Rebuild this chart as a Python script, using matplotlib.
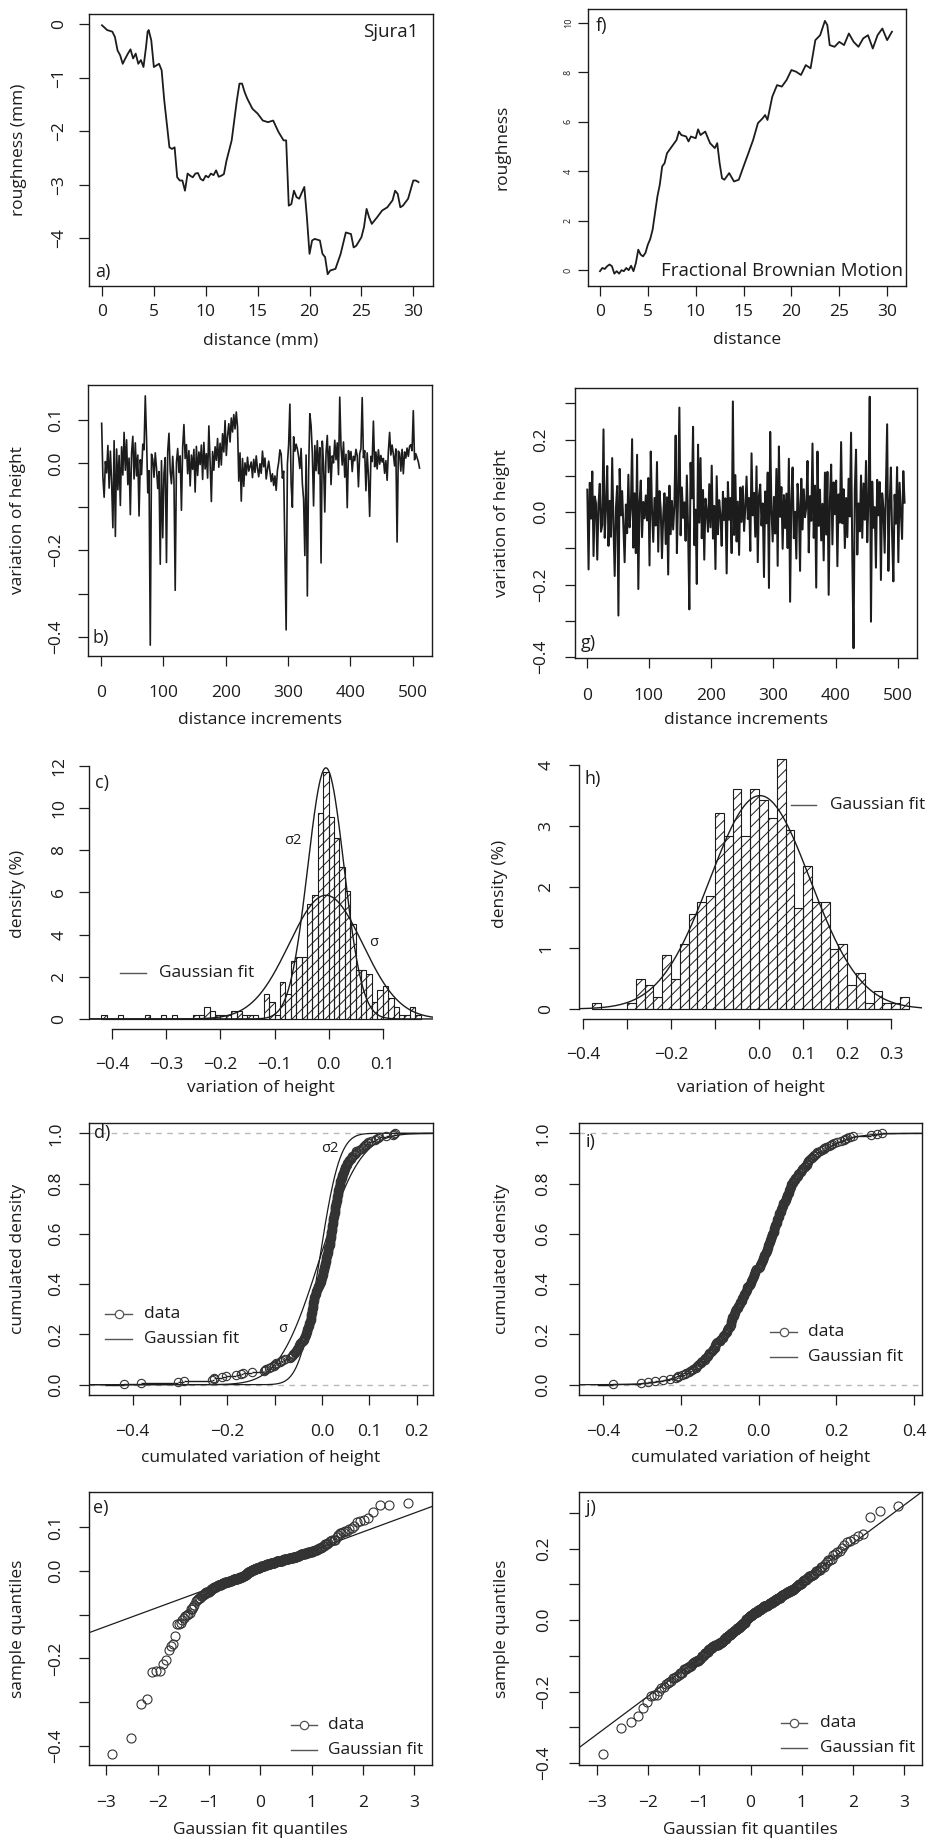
import numpy as np
import matplotlib
matplotlib.use("Agg")
import matplotlib.pyplot as plt
from matplotlib.lines import Line2D
from statistics import NormalDist

plt.rcParams["font.family"] = ["Open Sans", "DejaVu Sans"]
plt.rcParams["hatch.linewidth"] = 0.7
plt.rcParams["axes.unicode_minus"] = True

# ---------------- data ----------------
# a) measured profile Sjura1
a_dist = [0, 0.5, 1, 1.25, 1.5, 1.75, 2, 2.25, 2.5, 2.75, 3, 3.25, 3.5, 3.75, 4, 4.25, 4.4, 4.5,
          4.75, 5, 5.25, 5.5, 5.75, 6, 6.25, 6.5, 6.75, 7, 7.25, 7.5, 7.75, 8, 8.25, 8.5, 8.75, 9,
          9.25, 9.5, 9.75, 10, 10.25, 10.5, 10.75, 11, 11.25, 11.5, 11.75, 12, 12.5, 13, 13.25,
          13.5, 13.75, 14, 14.5, 15, 15.5, 16, 16.5, 17, 17.5, 17.75, 18, 18.25, 18.5, 18.75, 19,
          19.5, 19.75, 20, 20.25, 20.5, 21, 21.25, 21.5, 21.75, 22, 22.5, 23, 23.5, 24, 24.25,
          24.5, 25, 25.25, 25.5, 25.75, 26, 26.5, 27, 27.5, 28, 28.25, 28.5, 28.75, 29, 29.5, 30,
          30.25, 30.5]
a_rough = [-0.02, -0.11, -0.14, -0.24, -0.49, -0.58, -0.74, -0.64, -0.55, -0.47, -0.64, -0.55,
           -0.74, -0.67, -0.8, -0.42, -0.14, -0.11, -0.3, -0.8, -0.77, -0.74, -0.86, -1.42, -1.86,
           -2.3, -2.33, -2.3, -2.86, -2.92, -2.92, -3.11, -2.79, -2.83, -2.86, -2.79, -2.78, -2.89,
           -2.92, -2.83, -2.86, -2.79, -2.82, -2.73, -2.85, -2.83, -2.8, -2.55, -2.17, -1.42, -1.11,
           -1.11, -1.27, -1.39, -1.58, -1.67, -1.8, -1.83, -1.8, -2.01, -2.17, -2.17, -3.39, -3.36,
           -3.11, -3.23, -3.26, -3.04, -3.61, -4.29, -4.04, -4.01, -4.04, -4.29, -4.35, -4.67,
           -4.6, -4.57, -4.29, -3.89, -3.92, -4.17, -4.14, -3.98, -3.79, -3.45, -3.61, -3.73,
           -3.61, -3.48, -3.42, -3.29, -3.11, -3.17, -3.42, -3.39, -3.26, -2.92, -2.92, -2.95]

# f) fractional Brownian motion profile
f_dist = [0, 0.25, 0.5, 0.75, 1, 1.25, 1.5, 1.75, 2, 2.25, 2.5, 2.75, 3, 3.25, 3.5, 3.75, 4, 4.25,
          4.5, 4.75, 5, 5.25, 5.5, 5.75, 6, 6.25, 6.5, 6.75, 7, 7.5, 8, 8.25, 8.5, 9, 9.25, 9.5,
          10, 10.25, 10.5, 11, 11.5, 12, 12.25, 12.5, 12.75, 13, 13.5, 14, 14.5, 15, 15.5, 16,
          16.5, 17, 17.25, 17.5, 18, 18.5, 19, 19.5, 20, 20.5, 21, 21.5, 22, 22.5, 23, 23.5, 23.75,
          24, 24.5, 25, 25.5, 26, 26.5, 27, 27.5, 28, 28.5, 29, 29.5, 30, 30.5]
f_rough = [-0.05, 0.08, 0.04, 0.15, 0.22, 0.15, -0.15, -0.05, -0.15, -0.01, -0.05, 0.08, -0.01,
           0.17, -0.05, 0.28, 0.82, 0.62, 0.55, 0.69, 1.02, 1.25, 1.63, 2.3, 2.97, 3.45, 4.19,
           4.32, 4.72, 4.99, 5.26, 5.6, 5.46, 5.4, 5.2, 5.4, 5.33, 5.69, 5.46, 5.6, 5.13, 4.93,
           5.13, 4.32, 3.71, 3.65, 3.92, 3.58, 3.65, 4.19, 4.72, 5.26, 5.94, 6.14, 6.27, 6.07,
           7.01, 7.48, 7.42, 7.69, 8.09, 8.02, 7.89, 8.29, 8.16, 9.3, 9.5, 10.08, 9.91, 9.1, 9.03,
           9.23, 9.1, 9.57, 9.23, 9.03, 9.37, 9.5, 8.96, 9.5, 9.77, 9.3, 9.64]

# b) height increments of Sjura1 (every second increment)
b_var = [0.092, -0.031, -0.078, 0.004, -0.022, 0.041, -0.057, 0.028,
         -0.043, -0.148, 0.052, -0.168, 0.033, -0.061, 0.018, -0.097,
         0.038, -0.027, 0.071, -0.016, 0.054, -0.049, 0.012, -0.118,
         0.023, 0.062, -0.036, 0.047, -0.029, 0.019, -0.121, 0.008,
         -0.026, 0.044, 0.031, 0.155, 0.058, -0.068, -0.017, -0.418,
         0.021, 0.009, -0.032, 0.024, -0.011, -0.058, -0.019, -0.232,
         0.006, -0.171, -0.023, 0.013, -0.228, 0.027, 0.069, -0.018,
         -0.047, 0.016, -0.038, -0.292, 0.002, 0.034, -0.021, 0.017,
         -0.108, 0.037, 0.089, 0.011, 0.043, -0.024, 0.029, -0.052,
         0.019, -0.014, 0.032, -0.066, 0.039, -0.028, 0.026, -0.003,
         0.042, -0.037, 0.048, -0.013, 0.022, -0.034, 0.086, 0.003,
         -0.088, 0.027, -0.016, 0.038, 0.007, 0.057, -0.009, 0.046,
         -0.004, 0.068, 0.026, 0.098, 0.018, 0.063, 0.091, 0.049,
         0.104, 0.072, 0.112, 0.079, 0.118, 0.083, -0.041, 0.024,
         -0.087, 0.011, -0.053, 0.001, -0.027, 0.014, -0.018, -0.007,
         0.003, -0.033, 0.009, -0.021, 0.017, -0.012, -0.031, -0.001,
         -0.023, 0.028, -0.008, 0.012, -0.036, -0.014, 0.005, -0.019,
         -0.042, -0.024, -0.051, -0.029, -0.062, -0.016, 0.002, 0.031,
         0.021, -0.034, -0.018, -0.204, -0.383, -0.002, 0.043, 0.136,
         -0.048, -0.101, 0.061, 0.028, 0.044, 0.033, 0.015, -0.012,
         0.034, -0.046, -0.083, -0.212, 0.019, -0.305, -0.022, 0.114,
         0.087, 0.023, -0.098, 0.041, -0.017, 0.052, -0.024, 0.036,
         -0.229, 0.051, -0.002, -0.112, 0.024, 0.064, -0.021, 0.039,
         -0.049, 0.017, 0.001, 0.053, 0.008, 0.047, -0.026, 0.152,
         0.038, -0.004, 0.049, -0.032, 0.021, -0.102, 0.029, 0.009,
         0.027, -0.019, 0.016, 0.006, 0.032, 0.018, -0.054, 0.022,
         0.034, 0.151, 0.013, 0.029, -0.063, 0.024, -0.028, -0.122,
         0.016, 0.004, 0.097, -0.008, 0.026, -0.013, 0.031, -0.002,
         0.018, 0.003, 0.011, -0.023, 0.006, -0.039, 0.027, 0.071,
         0.019, 0.042, 0.021, -0.006, 0.033, -0.181, 0.028, 0.023,
         -0.018, 0.032, -0.024, 0.026, 0.012, 0.035, 0.016, 0.039,
         0.043, 0.029, 0.121, 0.008, 0.022, 0.013, 0.004, -0.011]

# g) increments of the fBm profile (every second increment)
g_var = [0.062, -0.158, 0.081, -0.018, 0.112, -0.121, 0.043, 0.024,
         -0.131, 0.022, 0.078, -0.054, -0.036, 0.228, -0.071, 0.013,
         0.127, -0.093, 0.031, -0.068, 0.149, -0.034, -0.176, 0.011,
         0.072, -0.285, 0.119, -0.009, 0.058, -0.041, -0.138, 0.021,
         -0.058, 0.103, -0.042, 0.009, 0.201, -0.098, 0.052, -0.113,
         0.158, -0.212, 0.029, 0.087, -0.069, 0.028, -0.017, 0.046,
         -0.023, 0.094, -0.147, 0.167, 0.004, -0.082, 0.039, -0.037,
         0.138, -0.109, 0.058, 0.008, -0.127, -0.011, 0.052, -0.088,
         0.041, -0.172, 0.073, -0.061, 0.031, -0.048, 0.019, 0.211,
         -0.113, 0.048, 0.288, -0.064, 0.068, -0.016, 0.027, -0.079,
         0.101, -0.047, -0.268, 0.136, 0.038, 0.235, -0.091, 0.007,
         -0.198, 0.186, -0.029, 0.149, -0.072, 0.061, -0.131, 0.037,
         0.002, -0.054, 0.077, -0.042, 0.128, -0.073, 0.017, -0.157,
         0.099, -0.061, 0.033, -0.008, -0.093, 0.056, -0.022, 0.038,
         -0.169, 0.083, -0.021, 0.039, -0.113, 0.305, -0.063, 0.102,
         -0.081, 0.029, -0.118, 0.068, -0.027, 0.071, -0.052, 0.012,
         0.098, -0.019, 0.039, -0.107, 0.162, -0.009, 0.053, -0.068,
         0.126, -0.138, 0.047, 0.076, -0.037, 0.024, -0.179, 0.057,
         -0.031, 0.109, -0.209, 0.221, 0.006, -0.081, 0.042, -0.059,
         0.119, -0.148, 0.181, -0.013, 0.069, -0.101, 0.047, -0.044,
         0.051, -0.099, 0.147, -0.247, 0.033, 0.123, -0.072, 0.001,
         -0.128, 0.078, 0.021, -0.162, 0.092, -0.048, 0.063, -0.014,
         0.014, 0.141, -0.111, 0.044, -0.024, 0.189, -0.071, 0.073,
         -0.208, 0.167, -0.038, 0.062, -0.078, 0.023, -0.133, 0.109,
         -0.062, 0.111, -0.228, 0.034, 0.131, -0.089, 0.082, -0.006,
         0.087, -0.149, 0.049, -0.029, 0.193, -0.031, 0.063, -0.099,
         0.039, -0.069, 0.092, -0.012, 0.219, -0.123, -0.375, 0.061,
         0.172, -0.117, 0.024, -0.053, 0.101, -0.071, 0.079, -0.021,
         0.141, -0.083, 0.032, 0.318, -0.302, 0.084, -0.043, 0.014,
         -0.153, 0.089, -0.009, 0.083, -0.187, 0.052, 0.011, -0.112,
         0.071, 0.242, -0.162, 0.018, 0.123, -0.064, -0.191, 0.048,
         -0.032, 0.124, -0.138, 0.081, 0.003, -0.074, 0.113, 0.026]

# c) histogram of Sjura1 increments: bins of 0.01 starting at -0.42
c_start, c_width = -0.42, 0.01
c_dens = [0.195, 0, 0, 0.195, 0, 0, 0, 0, 0.195, 0, 0, 0.195, 0, 0.195, 0, 0, 0,
          0.195, 0.195, 0.586, 0.391, 0.195, 0.195, 0.195, 0.391, 0.391, 0.195, 0.195, 0.195,
          0, 1.172, 0.781, 0.195, 1.758, 1.172, 2.734, 2.930, 2.930, 5.469, 5.859, 9.766,
          11.719, 9.570, 8.594, 7.227, 6.055, 4.492, 2.344, 2.344, 2.148, 0.781, 1.367, 1.563,
          0.977, 0.586, 0.195, 0.195, 0.586, 0.195]
c_mu, c_sd, c_sd2 = -0.005, 0.068, 0.0335

# h) histogram of fBm increments: bins of 0.02 starting at -0.38
h_start, h_width = -0.38, 0.02
h_dens = [0.10, 0, 0, 0, 0.10, 0.49, 0.39, 0.20, 0.88, 0.49, 1.07, 1.56, 1.76, 1.86, 3.22,
          2.83, 3.61, 2.83, 3.61, 3.42, 3.13, 4.10, 2.93, 1.66, 2.34, 1.76, 1.76, 0.98, 1.07,
          0.39, 0.59, 0.10, 0.29, 0.10, 0.10, 0.20]
h_mu, h_sd = 0.002, 0.114

# ---------------- layout helpers ----------------
W, H = 927, 1843
INK = "#1c1c1c"
FS = 12.5
TICK_PX = 10

fig = plt.figure(figsize=(W / 100, H / 100), dpi=100)


def fmt(v, nd):
    s = f"{v:.{nd}f}"
    if s.startswith("-") and float(s) == 0:
        s = s[1:]
    return s.replace("-", "\u2212")


def labs(vals, nd, keep=None):
    return [fmt(v, nd) if (keep is None or k in keep) else "" for k, v in enumerate(vals)]


def panel(bx):
    x0, y0, x1, y1 = bx
    return fig.add_axes([x0 / W, 1 - y1 / H, (x1 - x0) / W, (y1 - y0) / H])


def style(ax, bx, xlim, ylim, xt, xtl, yt, ytl, xlab, ylab, xlab_y, ylab_x, xd, yd,
          frame=True, yfs=FS, xspan=None, yspan=None):
    x0, y0, x1, y1 = bx
    ax.set_xlim(xlim)
    ax.set_ylim(ylim)
    ax.set_xticks(xt)
    ax.set_xticklabels(xtl)
    ax.set_yticks(yt)
    ax.set_yticklabels(ytl)
    ax.tick_params(axis="both", direction="out", length=TICK_PX * 0.72, width=0.9,
                   color=INK, labelcolor=INK)
    ax.tick_params(axis="x", labelsize=FS, pad=(xd - TICK_PX - 7) * 0.72)
    ax.tick_params(axis="y", labelsize=yfs, pad=(yd - TICK_PX - yfs * 0.76) * 0.72)
    plt.setp(ax.get_yticklabels(), rotation=90, va="center")
    for s in ax.spines.values():
        s.set_color(INK)
        s.set_linewidth(1.0)
    if not frame:
        ax.spines["top"].set_visible(False)
        ax.spines["right"].set_visible(False)
        ax.spines["bottom"].set_bounds(*xspan)
        ax.spines["left"].set_bounds(*yspan)
    ax.set_xlabel(xlab, fontsize=FS, color=INK, va="center")
    ax.xaxis.set_label_coords(0.5, (y1 - xlab_y) / (y1 - y0))
    ax.set_ylabel(ylab, fontsize=FS, color=INK, va="center")
    ax.yaxis.set_label_coords((ylab_x - x0) / (x1 - x0), 0.5)


def ftext(x, y, s, size=FS, ha="left"):
    fig.text(x / W, 1 - y / H, s, fontsize=size, ha=ha, va="center", color=INK)


def key(x0, x1, y, tx, label, marker=False):
    fy = 1 - y / H
    fig.add_artist(Line2D([x0 / W, x1 / W], [fy, fy], transform=fig.transFigure,
                          color="#555555", lw=1.0))
    if marker:
        fig.add_artist(Line2D([(x0 + x1) / 2 / W], [fy], transform=fig.transFigure,
                              marker="o", ms=6, mfc="white", mec="#555555", mew=0.9, ls="none"))
    ftext(tx, y, label)


def norm_pdf(x, mu, sd):
    return np.exp(-0.5 * ((x - mu) / sd) ** 2) / (sd * np.sqrt(2 * np.pi))


def ecdf(ax, data, mu, sds, xlim):
    xs = np.sort(np.asarray(data))
    n = len(xs)
    ys = np.arange(1, n + 1) / n
    for yy in (0, 1):
        ax.axhline(yy, color="0.72", ls=(0, (4, 4)), lw=1.0, zorder=1)
    for sd in sds:
        xx = np.linspace(xlim[0], xlim[1], 400)
        nd = NormalDist(mu, sd)
        ax.plot(xx, [nd.cdf(v) for v in xx], color=INK, lw=0.9, zorder=2)
    ends = np.append(xs[1:], xlim[1])
    ax.hlines(ys, xs, ends, color=INK, lw=1.0, zorder=3)
    ax.hlines(0, xs[0] - 0.04, xs[0], color=INK, lw=1.0, zorder=3)
    ax.plot(xs, ys, "o", ms=6, mfc="none", mec="#333333", mew=0.8, zorder=4)


def qq(ax, data):
    nd = NormalDist()
    samp = np.sort(np.asarray(data))
    n = len(samp)
    theo = [nd.inv_cdf((k + 0.5) / n) for k in range(n)]
    q1, q3 = np.percentile(samp, [25, 75])
    slope = (q3 - q1) / (nd.inv_cdf(0.75) - nd.inv_cdf(0.25))
    icpt = q1 - slope * nd.inv_cdf(0.25)
    ax.axline((0, icpt), slope=slope, color=INK, lw=0.9)
    ax.plot(theo, samp, "o", ms=6.5, mfc="none", mec="#333333", mew=0.8)


# ---------------- a) ----------------
bx = (89, 14, 433, 286)
ax = panel(bx)
ax.plot(a_dist, a_rough, color=INK, lw=1.3)
style(ax, bx, (-1.25, 31.9), (-4.89, 0.19), range(0, 31, 5), labs(range(0, 31, 5), 0),
      [0, -1, -2, -3, -4], labs([0, -1, -2, -3, -4], 0), "distance (mm)", "roughness (mm)",
      340, 19, 25, 31)
ftext(95, 272, "a)", 13)
ftext(418, 32, "Sjura1", 13.5, ha="right")

# ---------------- f) ----------------
bx = (588, 9, 906, 286)
ax = panel(bx)
ax.plot(f_dist, f_rough, color=INK, lw=1.3)
style(ax, bx, (-1.25, 31.97), (-0.65, 10.56), range(0, 31, 5), labs(range(0, 31, 5), 0),
      range(0, 11, 2), labs(range(0, 11, 2), 0), "distance", "roughness",
      340, 502, 25, 20, yfs=6.5)
ftext(596, 26, "f)", 13)
ftext(903, 271, "Fractional Brownian Motion", 13.5, ha="right")

# ---------------- b) ----------------
bx = (88, 385, 432, 656)
ax = panel(bx)
b_x = np.linspace(1, 511, len(b_var))
ax.plot(b_x, b_var, color=INK, lw=1.2)
yt = [0.1, 0.0, -0.1, -0.2, -0.3, -0.4]
style(ax, bx, (-20.9, 531), (-0.443, 0.18), range(0, 501, 100), labs(range(0, 501, 100), 0),
      yt, labs(yt, 1, keep=[0, 1, 3, 5]), "distance increments", "variation of height",
      720, 18, 36, 33)
ftext(93, 638, "b)", 13)

# ---------------- g) ----------------
bx = (575, 388, 917, 658)
ax = panel(bx)
g_x = np.linspace(1, 511, len(g_var))
ax.plot(g_x, g_var, color=INK, lw=1.45)
yt = [0.3, 0.2, 0.1, 0.0, -0.1, -0.2, -0.3, -0.4]
style(ax, bx, (-18.8, 531), (-0.402, 0.342), range(0, 501, 100), labs(range(0, 501, 100), 0),
      yt, labs(yt, 1, keep=[1, 3, 5, 7]), "distance increments", "variation of height",
      720, 502, 37, 35)
ftext(581, 643, "g)", 13)

# ---------------- c) ----------------
bx = (89, 758, 433, 1029)
ax = panel(bx)
c_left = c_start + c_width * np.arange(len(c_dens))
ax.bar(c_left, c_dens, width=c_width, align="edge", fill=False, hatch="///",
       edgecolor=INK, lw=0.8)
ax.hlines(0, c_left[0], c_left[-1] + c_width, color=INK, lw=0.8)
xlim = (-0.443, 0.193)
xx = np.linspace(xlim[0], xlim[1], 500)
ax.plot(xx, norm_pdf(xx, c_mu, c_sd), color=INK, lw=1.0)
ax.plot(xx, norm_pdf(xx, c_mu, c_sd2), color=INK, lw=1.0)
xt = [-0.4, -0.3, -0.2, -0.1, 0.0, 0.1]
style(ax, bx, xlim, (-0.476, 12.376), xt, labs(xt, 1), range(0, 13, 2), labs(range(0, 13, 2), 0),
      "variation of height", "density (%)", 1088, 18, 35, 31,
      frame=False, xspan=(-0.4, 0.1), yspan=(0, 12))
ftext(95, 783, "c)", 13)
ftext(293, 840, "\u03c32", 10.5, ha="center")
ftext(374, 943, "\u03c3", 10.5, ha="center")
key(120, 146, 973, 159, "Gaussian fit")

# ---------------- h) ----------------
bx = (579, 749, 922, 1019)
ax = panel(bx)
h_left = h_start + h_width * np.arange(len(h_dens))
ax.bar(h_left, h_dens, width=h_width, align="edge", fill=False, hatch="///",
       edgecolor=INK, lw=0.8)
ax.hlines(0, h_left[0], h_left[-1] + h_width, color=INK, lw=0.8)
xlim = (-0.409, 0.37)
xx = np.linspace(xlim[0], xlim[1], 500)
ax.plot(xx, norm_pdf(xx, h_mu, h_sd), color=INK, lw=1.0)
xt = [-0.4, -0.3, -0.2, -0.1, 0.0, 0.1, 0.2, 0.3]
style(ax, bx, xlim, (-0.164, 4.264), xt, labs(xt, 1, keep=[0, 2, 4, 5, 6, 7]),
      range(0, 5), labs(range(0, 5), 0), "variation of height", "density (%)",
      1088, 500, 35, 34, frame=False, xspan=(-0.4, 0.3), yspan=(0, 4))
ftext(585, 779, "h)", 13)
key(791, 816, 805, 830, "Gaussian fit")

# ---------------- d) ----------------
bx = (89, 1123, 433, 1395)
ax = panel(bx)
xlim = (-0.4926, 0.2347)
ecdf(ax, b_var, c_mu, [c_sd, c_sd2], xlim)
xt = [-0.4, -0.3, -0.2, -0.1, 0.0, 0.1, 0.2]
yt = [0.0, 0.2, 0.4, 0.6, 0.8, 1.0]
style(ax, bx, xlim, (-0.041, 1.041), xt, labs(xt, 1, keep=[0, 2, 4, 5, 6]), yt, labs(yt, 1),
      "cumulated variation of height", "cumulated density", 1458, 18, 36, 34)
ftext(94, 1133, "d)", 13)
ftext(330, 1149, "\u03c32", 10.5, ha="center")
ftext(283, 1328, "\u03c3", 10.5, ha="center")
key(105, 132, 1314, 144, "data", marker=True)
key(105, 132, 1339, 144, "Gaussian fit")

# ---------------- i) ----------------
bx = (579, 1123, 922, 1395)
ax = panel(bx)
xlim = (-0.4625, 0.42)
ecdf(ax, g_var, h_mu, [h_sd], xlim)
xt = [-0.4, -0.2, 0.0, 0.2, 0.4]
style(ax, bx, xlim, (-0.041, 1.041), xt, labs(xt, 1), yt, labs(yt, 1),
      "cumulated variation of height", "cumulated density", 1458, 502, 36, 37)
ftext(586, 1142, "i)", 13)
key(770, 797, 1332, 808, "data", marker=True)
key(770, 797, 1357, 808, "Gaussian fit")

# ---------------- e) ----------------
bx = (89, 1492, 432, 1765)
ax = panel(bx)
qq(ax, b_var)
xt = [-3, -2, -1, 0, 1, 2, 3]
yt = [0.1, 0.0, -0.1, -0.2, -0.3, -0.4]
style(ax, bx, (-3.34, 3.35), (-0.444, 0.181), xt, labs(xt, 0), yt, labs(yt, 1, keep=[0, 1, 3, 5]),
      "Gaussian fit quantiles", "sample quantiles", 1830, 18, 37, 34)
ftext(93, 1508, "e)", 13)
key(291, 317, 1725, 328, "data", marker=True)
key(291, 317, 1750, 328, "Gaussian fit")

# ---------------- j) ----------------
bx = (579, 1492, 922, 1765)
ax = panel(bx)
qq(ax, g_var)
yt = [0.3, 0.2, 0.1, 0.0, -0.1, -0.2, -0.3, -0.4]
style(ax, bx, (-3.35, 3.35), (-0.405, 0.358), xt, labs(xt, 0), yt, labs(yt, 1, keep=[1, 3, 5, 7]),
      "Gaussian fit quantiles", "sample quantiles", 1830, 502, 37, 36)
ftext(586, 1508, "j)", 13)
key(781, 807, 1723, 820, "data", marker=True)
key(781, 807, 1748, 820, "Gaussian fit")

fig.savefig("out.png", dpi=100, facecolor="white")
